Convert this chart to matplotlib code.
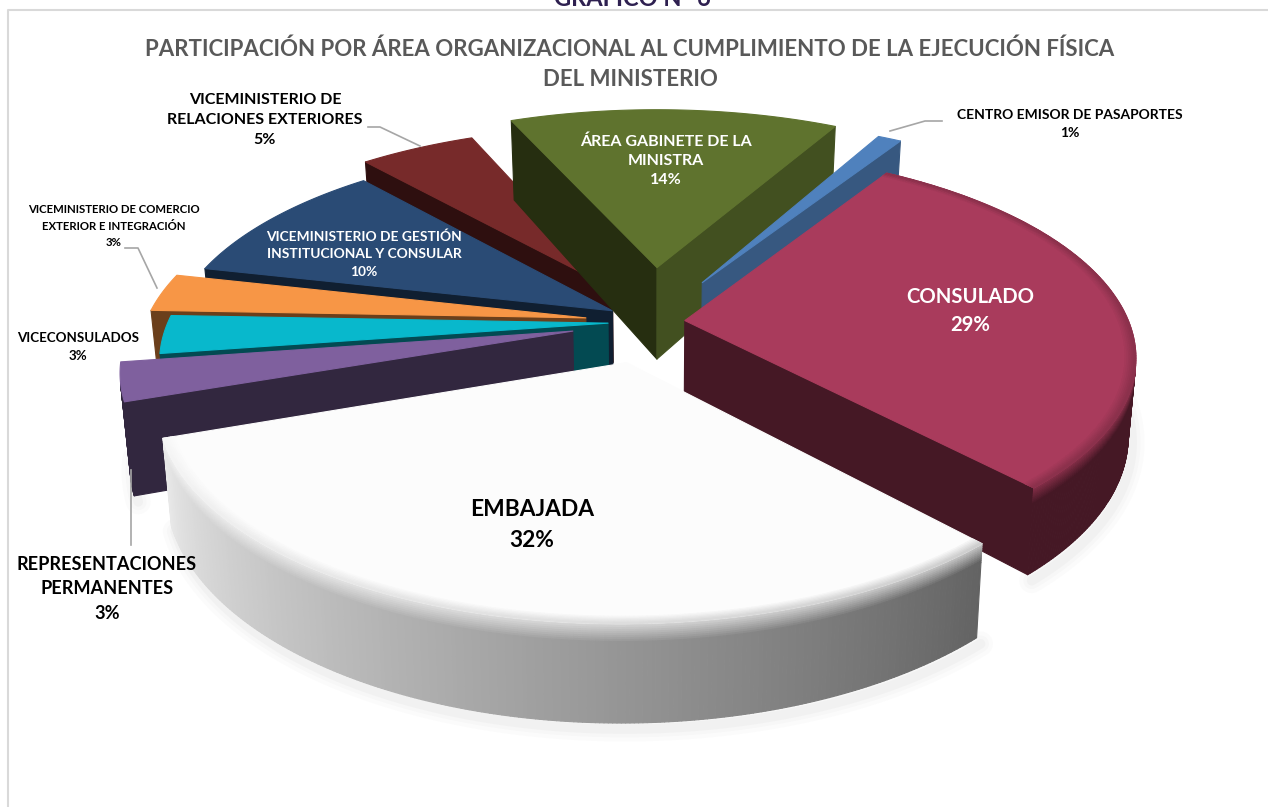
import numpy as np
import matplotlib
matplotlib.use("Agg")
import matplotlib.pyplot as plt
from matplotlib.collections import PolyCollection
from matplotlib.colors import to_rgb

names = ["CENTRO EMISOR DE PASAPORTES", "CONSULADO", "EMBAJADA", "REPRESENTACIONES\nPERMANENTES",
         "VICECONSULADOS", "VICEMINISTERIO DE COMERCIO\nEXTERIOR E INTEGRACIÓN",
         "VICEMINISTERIO DE GESTIÓN\nINSTITUCIONAL Y CONSULAR", "VICEMINISTERIO DE\nRELACIONES EXTERIORES",
         "ÁREA GABINETE DE LA\nMINISTRA"]
values = [1.0, 29.2, 31.5, 3.0, 3.0, 3.0, 10.0, 5.0, 14.3]
title_top = "GRÁFICO N° 6"
title = "PARTICIPACIÓN POR ÁREA ORGANIZACIONAL AL CUMPLIMIENTO DE LA EJECUCIÓN FÍSICA\nDEL MINISTERIO"

explode = [105, 34, 90, 83, 46, 69, 49, 90, 127]
radius = [455, 444, 445, 440, 440, 440, 440, 445, 450]
shift_x = [-3, -3, -5, 0, 0, 0, 0, 5, -3]
thick = [74, 76, 79, 88, 70, 70, 76, 76, 96]
top_c = ["#4F81BD", "#A93B5C", "#FCFCFC", "#7F609E", "#08B8CC", "#F79646", "#2A4B75", "#772A2A", "#5F732E"]
wall0 = ["#375880", "#451825", "#8A8A8A", "#32273F", "#034A52", "#6B3F1B", "#101F31", "#2E0F0F", "#262E10"]
wall1 = ["#375880", "#451825", "#8A8A8A", "#32273F", "#034A52", "#6B3F1B", "#101F31", "#2E0F0F", "#425020"]
outer0 = ["#375880", "#451825", "#636363", "#32273F", "#034A52", "#6B3F1B", "#101F31", "#2E0F0F", "#425020"]
outer1 = ["#375880", "#451825", "#E8E8E8", "#32273F", "#034A52", "#6B3F1B", "#101F31", "#2E0F0F", "#425020"]
bevel = [0, 1, 1, 0, 0, 0, 0, 0, 0]
shadow = [0, 1, 1, 1, 0, 0, 0, 0, 0]
order = [7, 6, 5, 4, 3, 8, 0, 1, 2]
label_xy = [(1070, 124), (970, 311), (532, 525), (107, 589), (78, 347), (114, 226), (364, 254), (265, 120), (666, 161)]
label_size = [10.0, 14.6, 16.4, 13.1, 9.6, 8.2, 9.9, 11.5, 11.5]
label_gap = [20, 28, 34, 27, 19, 17.5, 20.5, 24, 22]
label_col = ["black", "white", "black", "black", "black", "black", "white", "black", "white"]
leaders = [[(890, 131), (925, 121), (942, 121)], [(368, 127), (380, 127), (420, 146)],
           [(125, 248), (138, 248), (157, 288)], [(131, 470), (131, 545)]]

cx, cy, sq, k, start, tilt = 654, 322, 0.45, 0.17, 28.5, 0.018
R0 = 440

plt.rcParams["font.family"] = ["Lato", "DejaVu Sans"]
fig = plt.figure(figsize=(12.68, 8.07), dpi=100)
ax = fig.add_axes([0, 0, 1, 1])
ax.set_xlim(0, 1268)
ax.set_ylim(807, 0)
ax.axis("off")

ax.plot([8, 8, 1268], [807, 10, 10], color="#D9D9D9", lw=1.5, zorder=1)


def proj(X, Y, z=0.0):
    s = 1 / (1 + k * Y / R0)
    return (cx + X * s * (1 - tilt * z / 85), cy - sq * Y * s + z * s)


def lerp(a, b, t):
    a, b = np.array(to_rgb(a)), np.array(to_rgb(b))
    return tuple(a + (b - a) * t)


def area(q):
    q = np.array(q)
    x, y = q[:, 0], q[:, 1]
    return np.sum(x * np.roll(y, -1) - np.roll(x, -1) * y)


edges = start + np.concatenate([[0], np.cumsum(values)]) * 3.6
z = 10
for i in order:
    t0, t1 = np.radians(edges[i]), np.radians(edges[i + 1])
    mid = (t0 + t1) / 2
    ax0, ay0 = explode[i] * np.sin(mid) + shift_x[i], explode[i] * np.cos(mid)
    h = thick[i]
    R = radius[i]
    n = max(6, int(values[i] * 8))
    ts = np.linspace(t0, t1, n + 1)

    def P(r, t, dz=0.0):
        return proj(ax0 + r * np.sin(t), ay0 + r * np.cos(t), dz)

    if shadow[i]:
        for lw, o in [(18, 0.018), (12, 0.025), (7, 0.03)]:
            pts = np.array([P(R, t, h) for t in ts])
            ax.plot(pts[:, 0] + 4, pts[:, 1] + 6, color="#555555", alpha=o, lw=lw,
                    solid_capstyle="round", zorder=z)
        z += 1

    verts, cols = [], []
    apex_t = proj(ax0, ay0)
    apex_b = proj(ax0, ay0, h)
    q = [apex_t, P(R, t0), P(R, t0, h), apex_b]
    if area(q) < 0:
        verts.append(q); cols.append(to_rgb(wall0[i]))
    q = [P(R, t1), apex_t, apex_b, P(R, t1, h)]
    if area(q) < 0:
        verts.append(q); cols.append(to_rgb(wall1[i]))
    levels = list(np.linspace(0, 0.2, 11)) + [1.0]
    for j in range(n):
        ta, tb = ts[j], ts[j + 1]
        q = [P(R, ta), P(R, tb), P(R, tb, h), P(R, ta, h)]
        if area(q) < 0:
            base = lerp(outer0[i], outer1[i], (j + 0.5) / n)
            for a, b in zip(levels[:-1], levels[1:]):
                qq = [P(R, ta, a * h), P(R, tb, a * h), P(R, tb, b * h), P(R, ta, b * h)]
                if bevel[i] and b < 1:
                    col = lerp(lerp(top_c[i], base, 0.3), base, b / 0.2)
                else:
                    col = base
                verts.append(qq); cols.append(col)
    top = [apex_t] + [P(R, t) for t in ts]
    verts.append(top); cols.append(to_rgb(top_c[i]))
    if bevel[i]:
        rr = np.linspace(0.977, 1.0, 7)
        for j in range(n):
            base = lerp(outer0[i], outer1[i], (j + 0.5) / n)
            for m in range(6):
                qq = [P(R * rr[m], ts[j]), P(R * rr[m], ts[j + 1]),
                      P(R * rr[m + 1], ts[j + 1]), P(R * rr[m + 1], ts[j])]
                verts.append(qq); cols.append(lerp(top_c[i], base, 0.3 * (m + 1) / 6))
    pc = PolyCollection(verts, facecolors=cols, edgecolors=cols, linewidths=0.8, zorder=z)
    ax.add_collection(pc)
    z += 1

for pts in leaders:
    p = np.array(pts)
    ax.plot(p[:, 0], p[:, 1], color="#A6A6A6", lw=1.2, zorder=z)
z += 1

ax.text(632, -1, title_top, ha="center", va="center", fontsize=17, fontweight="bold", color="#2E2050", zorder=z)
ax.text(630, 64, title, ha="center", va="center", fontsize=16, fontweight="bold", color="#595959",
        linespacing=1.52, zorder=z)
for i, nm in enumerate(names):
    ax.text(label_xy[i][0], label_xy[i][1], f"{nm}\n{round(values[i])}%", ha="center", va="center",
            fontsize=label_size[i], fontweight="bold", color=label_col[i],
            linespacing=label_gap[i] / (label_size[i] * 1.315), zorder=z)

fig.savefig("out.png", dpi=100)
